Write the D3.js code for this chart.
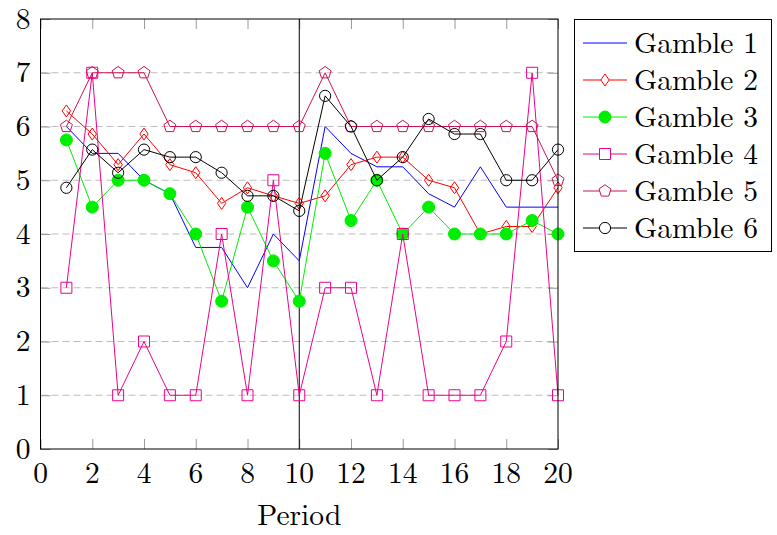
<!DOCTYPE html>
<html>
<head>
<meta charset="utf-8">
<script src="https://cdn.jsdelivr.net/npm/d3@7"></script>
<style>
  html, body { margin: 0; padding: 0; background: #fff; }
</style>
</head>
<body>
<svg id="chart" width="777" height="535"></svg>
<script>
const periods = d3.range(1, 21);
const seriesNames = ["Gamble 1", "Gamble 2", "Gamble 3", "Gamble 4", "Gamble 5", "Gamble 6"];
const gamble1 = [6, 5.5, 5.5, 5, 4.75, 3.75, 3.75, 3, 4, 3.5, 6, 5.5, 5.25, 5.25, 4.75, 4.5, 5.25, 4.5, 4.5, 4.5];
const gamble2 = [6.29, 5.86, 5.29, 5.86, 5.29, 5.14, 4.57, 4.86, 4.71, 4.57, 4.71, 5.29, 5.43, 5.43, 5, 4.86, 4, 4.14, 4.14, 4.86];
const gamble3 = [5.75, 4.5, 5, 5, 4.75, 4, 2.75, 4.5, 3.5, 2.75, 5.5, 4.25, 5, 4, 4.5, 4, 4, 4, 4.25, 4];
const gamble4 = [3, 7, 1, 2, 1, 1, 4, 1, 5, 1, 3, 3, 1, 4, 1, 1, 1, 2, 7, 1];
const gamble5 = [6, 7, 7, 7, 6, 6, 6, 6, 6, 6, 7, 6, 6, 6, 6, 6, 6, 6, 6, 5];
const gamble6 = [4.86, 5.57, 5.14, 5.57, 5.43, 5.43, 5.14, 4.71, 4.71, 4.43, 6.57, 6, 5, 5.43, 6.14, 5.86, 5.86, 5, 5, 5.57];
const xTicks = [0, 2, 4, 6, 8, 10, 12, 14, 16, 18, 20];
const yTicks = [0, 1, 2, 3, 4, 5, 6, 7, 8];
const xLabel = "Period";

const seriesValues = [gamble1, gamble2, gamble3, gamble4, gamble5, gamble6];
const colors = ["#0000ff", "#ff0000", "#00ee00", "#ec008c", "#cc1155", "#000000"];
const markers = ["none", "diamond", "dot", "square", "pentagon", "circle"];
const FONT = '"Latin Modern Roman", "Liberation Serif", serif';
const FS = 29.5;

const svg = d3.select("#chart");
const L = 40.5, R = 558, T = 19, B = 449;
const x = d3.scaleLinear().domain([0, 20]).range([L, R]);
const y = d3.scaleLinear().domain([0, 8]).range([B, T]);

// grid lines
svg.append("g").selectAll("line").data(yTicks.filter(v => v > 0 && v < 8)).join("line")
  .attr("x1", L).attr("x2", R).attr("y1", d => y(d)).attr("y2", d => y(d))
  .attr("stroke", "#bdbdbd").attr("stroke-width", 1).attr("stroke-dasharray", "7,4");

// ticks (inward, gray) using d3 axes
const tickLen = 10;
function styleAxis(g) {
  g.select(".domain").remove();
  g.selectAll(".tick line").attr("stroke", "#9a9a9a").attr("stroke-width", 1);
  g.selectAll(".tick text").remove();
}
svg.append("g").attr("transform", `translate(0,${B})`)
  .call(d3.axisBottom(x).tickValues(xTicks).tickSize(-tickLen)).call(styleAxis);
svg.append("g").attr("transform", `translate(0,${T})`)
  .call(d3.axisTop(x).tickValues(xTicks).tickSize(-tickLen)).call(styleAxis);
svg.append("g").attr("transform", `translate(${L},0)`)
  .call(d3.axisLeft(y).tickValues(yTicks).tickSize(-tickLen)).call(styleAxis);
svg.append("g").attr("transform", `translate(${R},0)`)
  .call(d3.axisRight(y).tickValues(yTicks).tickSize(-tickLen)).call(styleAxis);

// tick labels
svg.append("g").selectAll("text").data(xTicks).join("text")
  .attr("x", d => x(d)).attr("y", B + 34)
  .style("font-family", FONT)
  .attr("text-anchor", "middle").attr("font-size", FS).text(d => d);
svg.append("g").selectAll("text").data(yTicks).join("text")
  .attr("x", L - 10).attr("y", d => y(d) + 9.5)
  .style("font-family", FONT)
  .attr("text-anchor", "end").attr("font-size", FS).text(d => d);

svg.append("text").attr("x", (L + R) / 2).attr("y", 525)
  .style("font-family", FONT)
  .attr("text-anchor", "middle").attr("font-size", FS).text(xLabel);

// vertical line at period 10
svg.append("line").attr("x1", x(10)).attr("x2", x(10)).attr("y1", T).attr("y2", B)
  .attr("stroke", "#000").attr("stroke-width", 1);

function markerPath(type, cx, cy) {
  const p = d3.path();
  if (type === "diamond") {
    p.moveTo(cx, cy - 6); p.lineTo(cx + 4.2, cy); p.lineTo(cx, cy + 6); p.lineTo(cx - 4.2, cy); p.closePath();
  } else if (type === "square") {
    const h = 5.5;
    p.rect(cx - h, cy - h, 2 * h, 2 * h);
  } else if (type === "pentagon") {
    const r = 6.3;
    for (let i = 0; i < 5; i++) {
      const a = -Math.PI / 2 + i * 2 * Math.PI / 5;
      const px = cx + r * Math.cos(a), py = cy + r * Math.sin(a);
      if (i === 0) p.moveTo(px, py); else p.lineTo(px, py);
    }
    p.closePath();
  } else if (type === "circle") {
    p.arc(cx, cy, 5.6, 0, 2 * Math.PI);
  } else if (type === "dot") {
    p.arc(cx, cy, 6, 0, 2 * Math.PI);
  }
  return p.toString();
}

const line = d3.line().x((d, i) => x(periods[i])).y(d => y(d));

seriesValues.forEach((vals, si) => {
  const g = svg.append("g");
  g.append("path").datum(vals).attr("d", line)
    .attr("fill", "none").attr("stroke", colors[si]).attr("stroke-width", 1);
  if (markers[si] !== "none") {
    g.selectAll("path.mk").data(vals).join("path").attr("class", "mk")
      .attr("d", (d, i) => markerPath(markers[si], x(periods[i]), y(d)))
      .attr("fill", markers[si] === "dot" ? colors[si] : "none")
      .attr("stroke", colors[si]).attr("stroke-width", 1);
  }
});

// frame
svg.append("rect").attr("x", L).attr("y", T).attr("width", R - L).attr("height", B - T)
  .attr("fill", "none").attr("stroke", "#000").attr("stroke-width", 1);

// legend
const lg = svg.append("g");
lg.append("rect").attr("x", 574.5).attr("y", 19.5).attr("width", 197).attr("height", 232)
  .attr("fill", "#fff").attr("stroke", "#000").attr("stroke-width", 1);
seriesNames.forEach((name, i) => {
  const cy = 43 + i * 37;
  lg.append("line").attr("x1", 583).attr("x2", 627).attr("y1", cy).attr("y2", cy)
    .attr("stroke", colors[i]).attr("stroke-width", 1);
  if (markers[i] !== "none") {
    lg.append("path").attr("d", markerPath(markers[i], 605, cy))
      .attr("fill", markers[i] === "dot" ? colors[i] : "#fff")
      .attr("stroke", colors[i]).attr("stroke-width", 1);
  }
  lg.append("text").attr("x", 634).attr("y", cy + 10)
    .style("font-family", FONT).attr("font-size", FS).text(name);
});
</script>
</body>
</html>
